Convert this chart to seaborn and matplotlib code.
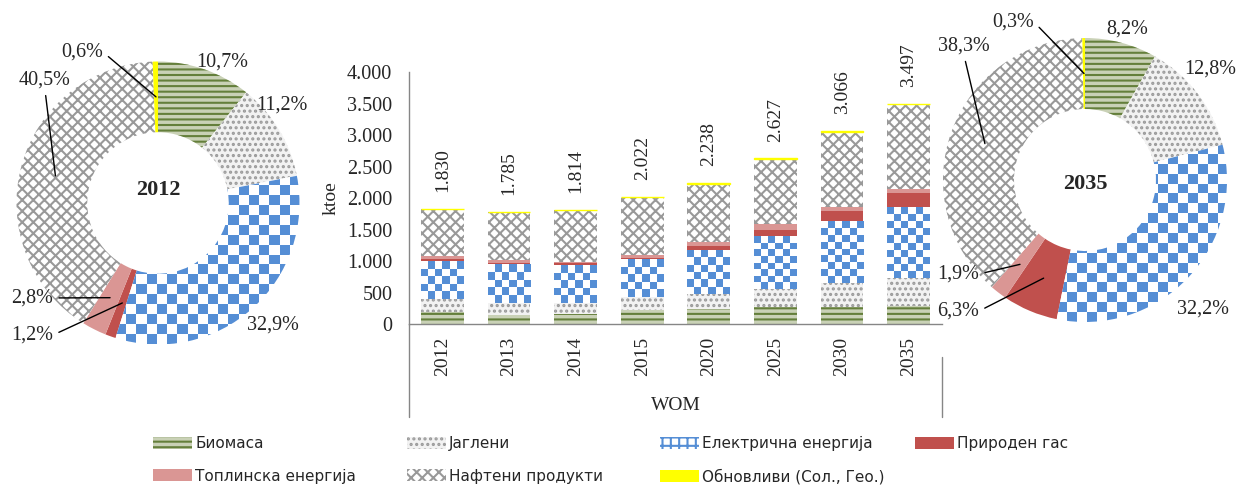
import numpy as np
import matplotlib
matplotlib.use('Agg')
import matplotlib.pyplot as plt
import seaborn as sns
from matplotlib.patches import Patch
from matplotlib.colors import ListedColormap
from matplotlib.ticker import FuncFormatter, MultipleLocator

# data (ktoe)
years = ['2012', '2013', '2014', '2015', '2020', '2025', '2030', '2035']
sources = ['Биомаса', 'Јаглени', 'Електрична енергија', 'Природен гас',
           'Топлинска енергија', 'Нафтени продукти', 'Обновливи (Сол., Гео.)']

biomass = [196, 150, 165, 223, 234, 277, 277, 287]
coal = [205, 190, 175, 213, 239, 282, 372, 448]
electricity = [602, 610, 596, 596, 697, 835, 984, 1126]
natural_gas = [22, 15, 40, 21, 64, 106, 160, 220]
heat = [51, 55, 10, 37, 64, 80, 63, 66]
oil = [742, 755, 816, 920, 927, 1035, 1198, 1339]
renewables = [12, 10, 12, 12, 13, 12, 12, 11]

# shares (%) for the two donuts
share_2012 = [10.7, 11.2, 32.9, 1.2, 2.8, 40.5, 0.6]
share_2035 = [8.2, 12.8, 32.2, 6.3, 1.9, 38.3, 0.3]

# look of each source: face, hatch colour, hatch
styles = [
    ('#c9d1b6', '#647f3b', '---'),
    ('#f2f2f2', '#9a9a9a', '...'),
    ('white', '#558ed5', None),      # checkerboard, drawn separately
    ('#c0504d', '#c0504d', None),
    ('#da9694', '#da9694', None),
    ('white', '#999999', 'xxx'),
    ('#ffff00', '#ffff00', None),
]
checker_cmap = ListedColormap(['white', '#558ed5'])

sns.set_style('white')
plt.rcParams['font.family'] = ['Liberation Serif', 'DejaVu Serif']
plt.rcParams['hatch.linewidth'] = 1.5

W, H = 1237, 490
fig = plt.figure(figsize=(W / 100, H / 100), dpi=100)


def fmt_pct(v):
    return f'{v:.1f}'.replace('.', ',') + '%'


def style_patch(p, st):
    p.set_facecolor(st[0])
    p.set_edgecolor(st[1])
    p.set_hatch(st[2])
    p.set_linewidth(0)


def checker(ax, patch, cell):
    # blue/white checkerboard clipped to the patch
    bb = patch.get_window_extent()
    inv = ax.transData.inverted()
    (x0, y0), (x1, y1) = inv.transform([[bb.x0, bb.y0], [bb.x1, bb.y1]])
    nx = max(1, int(round(bb.width / cell)))
    ny = max(1, int(round(bb.height / cell)))
    grid = np.indices((ny, nx)).sum(axis=0) % 2
    im = ax.imshow(grid, extent=(x0, x1, y0, y1), origin='lower', cmap=checker_cmap,
                   vmin=0, vmax=1, interpolation='nearest', aspect='auto',
                   zorder=patch.get_zorder() + 0.1)
    im.set_clip_path(patch)


# ---- stacked bars ----
ax = fig.add_axes([409 / W, 1 - 324 / H, 533 / W, 252 / H])
series = [biomass, coal, electricity, natural_gas, heat, oil, renewables]
bottom = np.zeros(len(years))
for vals, st in zip(series, styles):
    sns.barplot(x=years, y=vals, bottom=bottom.copy(), order=years, color=st[0],
                saturation=1, width=0.64, errorbar=None, ax=ax)
    for p in ax.containers[-1]:
        style_patch(p, st)
    bottom = bottom + np.array(vals)
for p in ax.containers[-1]:
    p.set_linewidth(1)

ax.set_xlim(-0.5, len(years) - 0.5)
ax.set_ylim(0, 4000)
ax.set_autoscale_on(False)
for p in ax.containers[2]:
    checker(ax, p, 7)

ax.yaxis.set_major_locator(MultipleLocator(500))
ax.yaxis.set_major_formatter(FuncFormatter(lambda v, _: f'{v:,.0f}'.replace(',', '.')))
ax.tick_params(axis='y', length=0, pad=12, labelsize=14.5)
ax.tick_params(axis='x', length=0, pad=9, labelsize=14, labelrotation=90)
ax.set_xlabel('')
ax.set_ylabel('')
for s in ['top', 'right']:
    ax.spines[s].set_visible(False)
for s in ['left', 'bottom']:
    ax.spines[s].set_color('#868686')
    ax.spines[s].set_linewidth(1)
ax.plot([0, 0], [0, -0.369], transform=ax.transAxes, clip_on=False, color='#868686', lw=1)
ax.plot([1, 1], [-0.131, -0.369], transform=ax.transAxes, clip_on=False, color='#868686', lw=1)

totals = bottom
ax.bar_label(ax.containers[-1], labels=[f'{t:,.0f}'.replace(',', '.') for t in totals],
             padding=12, rotation=90, fontsize=14)

fig.text(331 / W, 1 - 198 / H, 'ktoe', rotation=90, fontsize=14, ha='center', va='center')
fig.text(676 / W, 1 - 405 / H, 'WOM', fontsize=14, ha='center', va='center')


# ---- donuts ----
def donut(rect, shares, title, title_dy, label_pos):
    pax = fig.add_axes(rect)
    wedges, _ = pax.pie(shares, startangle=90, counterclock=False, radius=1,
                        wedgeprops=dict(width=0.5, linewidth=0))
    pax.set_xlim(-1, 1)
    pax.set_ylim(-1, 1)
    pax.set_aspect('equal')
    pax.set_autoscale_on(False)
    for w, st in zip(wedges, styles):
        style_patch(w, st)
    checker(pax, wedges[2], 10)
    pax.text(0, title_dy, title, ha='center', va='center', fontsize=16, fontweight='bold')
    for i, (w, v) in enumerate(zip(wedges, shares)):
        pos = label_pos[i]
        if i in (3, 4, 5, 6):
            mid = np.deg2rad((w.theta1 + w.theta2) / 2)
            anchor = (0.75 * np.cos(mid), 0.75 * np.sin(mid))
            rel = (0.5, 0) if i == 5 else (1, 0.5)
            pax.annotate(fmt_pct(v), xy=anchor, xytext=pos, ha='center', va='center',
                         fontsize=14.5, annotation_clip=False,
                         arrowprops=dict(arrowstyle='-', color='black', lw=1,
                                         shrinkA=2, shrinkB=0, relpos=rel))
        else:
            pax.text(pos[0], pos[1], fmt_pct(v), ha='center', va='center',
                     fontsize=14.5, clip_on=False)


pos_2012 = [(0.452, 0.996), (0.876, 0.693), (0.813, -0.862), (-0.890, -0.933),
            (-0.890, -0.671), (-0.799, 0.869), (-0.537, 1.067)]
pos_2035 = [(0.296, 1.063), (0.880, 0.782), (0.831, -0.908), (-0.894, -0.923),
            (-0.894, -0.662), (-0.852, 0.944), (-0.507, 1.113)]

donut([16.5 / W, 1 - 344.5 / H, 283 / W, 283 / H], share_2012, '2012', 0.09, pos_2012)
donut([943 / W, 1 - 322 / H, 284 / W, 284 / H], share_2035, '2035', -0.03, pos_2035)

# ---- legend: four columns placed like the original ----
handles = []
for name, st in zip(sources, styles):
    if st[2] is None and st[0] == 'white':
        handles.append(Patch(facecolor='white', edgecolor=st[1], hatch='++', linewidth=0, label=name))
    else:
        handles.append(Patch(facecolor=st[0], edgecolor=st[1], hatch=st[2], linewidth=0, label=name))
columns = [[0, 4], [1, 5], [2, 6], [3]]
col_x = [153, 407, 660, 915]
for idx, cx in zip(columns, col_x):
    fig.legend([handles[i] for i in idx], [sources[i] for i in idx], loc='upper left',
               bbox_to_anchor=(cx / W, 1 - 436 / H), frameon=False, borderpad=0,
               borderaxespad=0, handlelength=2.55, handleheight=0.8, handletextpad=0.2,
               labelspacing=1.15, prop=dict(family='DejaVu Sans', size=11))

fig.savefig('out.png', dpi=100)
